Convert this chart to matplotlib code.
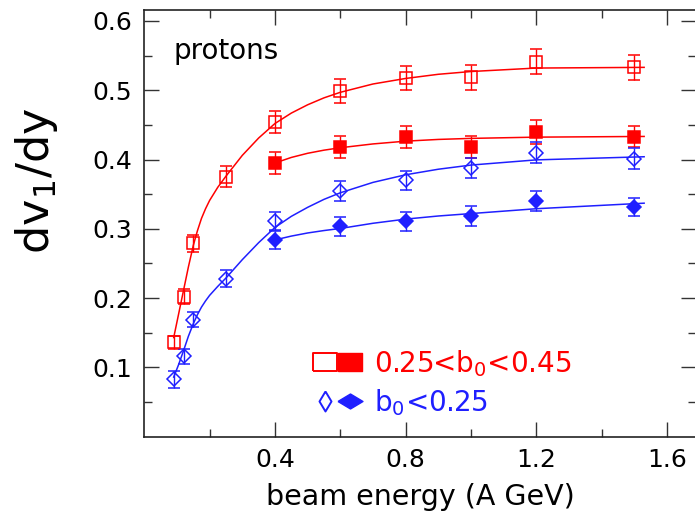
import matplotlib
matplotlib.use('Agg')
import matplotlib.pyplot as plt
from matplotlib.lines import Line2D
from matplotlib.legend_handler import HandlerTuple

red = '#ff0000'
blue = '#1f1fff'

# measured points (beam energy in A GeV)
energy = [0.09, 0.12, 0.15, 0.25, 0.4, 0.6, 0.8, 1.0, 1.2, 1.5]
energy_hi = [0.4, 0.6, 0.8, 1.0, 1.2, 1.5]

red_open = [0.136, 0.202, 0.279, 0.375, 0.454, 0.499, 0.518, 0.519, 0.541, 0.533]
red_open_err = [0.010, 0.011, 0.0125, 0.015, 0.016, 0.017, 0.0175, 0.018, 0.018, 0.018]
red_fill = [0.395, 0.418, 0.432, 0.418, 0.440, 0.433]
red_fill_err = [0.0156, 0.016, 0.016, 0.0155, 0.017, 0.0156]

blue_open = [0.083, 0.116, 0.169, 0.228, 0.311, 0.354, 0.370, 0.388, 0.410, 0.401]
blue_open_err = [0.012, 0.011, 0.011, 0.012, 0.0128, 0.0144, 0.014, 0.0144, 0.0156, 0.015]
blue_fill = [0.284, 0.304, 0.311, 0.319, 0.340, 0.332]
blue_fill_err = [0.013, 0.0137, 0.0135, 0.0144, 0.0144, 0.013]

# fit curves
fit_x = [0.09, 0.105, 0.12, 0.135, 0.15, 0.1625, 0.175, 0.1875, 0.2, 0.225, 0.25,
         0.3, 0.35, 0.4, 0.45, 0.5, 0.55, 0.6, 0.7, 0.8, 0.9, 1.0, 1.2, 1.53]
red_open_fit = [0.143, 0.177, 0.211, 0.245, 0.276, 0.297, 0.315, 0.329, 0.341, 0.360,
                0.376, 0.406, 0.431, 0.452, 0.467, 0.479, 0.489, 0.497, 0.509, 0.517,
                0.523, 0.527, 0.532, 0.533]
blue_open_fit = [0.086, 0.104, 0.124, 0.145, 0.163, 0.176, 0.187, 0.196, 0.204, 0.217,
                 0.229, 0.2555, 0.280, 0.302, 0.318, 0.331, 0.3425, 0.352, 0.367, 0.378,
                 0.386, 0.392, 0.3995, 0.404]
fit_x_hi = [0.4, 0.45, 0.5, 0.55, 0.6, 0.7, 0.8, 0.9, 1.0, 1.2, 1.53]
red_fill_fit = [0.395, 0.403, 0.409, 0.4135, 0.417, 0.4225, 0.4265, 0.429, 0.4305,
                0.4323, 0.4333]
blue_fill_fit = [0.284, 0.2895, 0.294, 0.2975, 0.3005, 0.308, 0.314, 0.3185, 0.322,
                 0.329, 0.337]

xticks = [0.4, 0.8, 1.2, 1.6]
xtick_labels = ['0.4', '0.8', '1.2', '1.6']
xminor = [0.2, 0.6, 1.0, 1.4]
yticks = [0.1, 0.2, 0.3, 0.4, 0.5, 0.6]
ytick_labels = ['0.1', '0.2', '0.3', '0.4', '0.5', '0.6']
yminor = [0.05, 0.15, 0.25, 0.35, 0.45, 0.55]

fig = plt.figure(figsize=(6.95, 5.13), dpi=100)
ax = fig.add_axes([144.3/695, 1-436.7/513, 552.1/695, 427.2/513])

ax.plot(fit_x, red_open_fit, color=red, lw=1.1, zorder=2)
ax.plot(fit_x_hi, red_fill_fit, color=red, lw=1.1, zorder=2)
ax.plot(fit_x, blue_open_fit, color=blue, lw=1.1, zorder=2)
ax.plot(fit_x_hi, blue_fill_fit, color=blue, lw=1.1, zorder=2)

eb = dict(ls='none', elinewidth=1.0, capsize=4.3, capthick=1.0, mew=1.1, zorder=3)
ax.errorbar(energy, red_open, yerr=red_open_err, marker='s', ms=8.5,
            mfc='none', mec=red, ecolor=red, **eb)
ax.errorbar(energy_hi, red_fill, yerr=red_fill_err, marker='s', ms=8.5,
            mfc=red, mec=red, ecolor=red, **eb)
ax.errorbar(energy, blue_open, yerr=blue_open_err, marker='D', ms=7,
            mfc='none', mec=blue, ecolor=blue, **eb)
ax.errorbar(energy_hi, blue_fill, yerr=blue_fill_err, marker='D', ms=7,
            mfc=blue, mec=blue, ecolor=blue, **eb)

ax.set_xlim(0, 1.69)
ax.set_ylim(0, 0.6165)
ax.set_xticks(xticks, xtick_labels)
ax.set_xticks(xminor, minor=True)
ax.set_yticks(yticks, ytick_labels)
ax.set_yticks(yminor, minor=True)
ax.tick_params(which='both', direction='in', top=True, right=True,
               width=1.0, color='#333333', labelsize=18)
ax.tick_params(which='major', length=10.5)
ax.tick_params(which='minor', length=5.5)
ax.tick_params(axis='y', pad=9)
ax.tick_params(axis='x', pad=8)
for s in ax.spines.values():
    s.set_linewidth(1.2)
    s.set_color('#222222')

ax.set_xlabel('beam energy (A GeV)', fontsize=20.5, labelpad=8)
fig.text(36/695, 1-181/513, 'dv$_1$/dy', rotation=90, ha='center', va='center',
         fontsize=32)
ax.text(0.052, 0.884, 'protons', transform=ax.transAxes, fontsize=20, va='baseline')

# legend with open + filled symbol pairs
rect = [(-1, -0.8), (1, -0.8), (1, 0.8), (-1, 0.8), (-1, -0.8)]
thin_dia = [(0, 1), (0.6, 0), (0, -1), (-0.6, 0), (0, 1)]
wide_dia = [(-1, 0), (0, 0.6), (1, 0), (0, -0.6), (-1, 0)]
h_ro = Line2D([], [], ls='none', marker=rect, ms=17, mfc='none', mec=red, mew=1.4)
h_rf = Line2D([], [], ls='none', marker=rect, ms=17, mfc=red, mec=red)
h_bo = Line2D([], [], ls='none', marker=thin_dia, ms=14.4, mfc='none', mec=blue, mew=1.4)
h_bf = Line2D([], [], ls='none', marker=wide_dia, ms=18, mfc=blue, mec=blue)
fig.legend([(h_ro, h_rf), (h_bo, h_bf)], ['0.25<b$_0$<0.45', 'b$_0$<0.25'],
           handler_map={tuple: HandlerTuple(ndivide=None, pad=0)},
           loc='upper left', bbox_to_anchor=(312/695, 1-348/513), frameon=False,
           borderpad=0, borderaxespad=0, handlelength=1.8, handletextpad=0.45,
           labelspacing=0.3, fontsize=20, labelcolor=[red, blue])

fig.savefig('out.png', dpi=100)
